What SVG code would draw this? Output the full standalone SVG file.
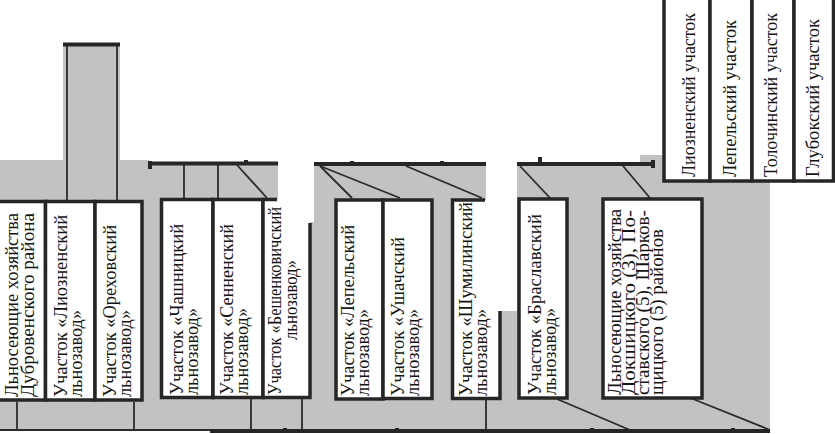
<svg xmlns="http://www.w3.org/2000/svg" width="835" height="434" viewBox="0 0 835 434">
<style>
.bg{fill:#c2c2c2}
.box{fill:#fff;stroke:#262626;stroke-width:3.5}
.brd{stroke:#262626;stroke-width:3.5;fill:none}
.bar{stroke:#262626;stroke-width:4;fill:none}
.ln{stroke:#2a2a2a;stroke-width:1.8;fill:none}
.t{font-family:"Liberation Serif","Times New Roman",serif;font-size:19px;fill:#141414}
.m{text-anchor:middle}
</style>
<g id="background">
<rect class="bg" x="63" y="43" width="57" height="120"/>
<rect class="bg" x="0" y="160" width="149" height="271"/>
<rect class="bg" x="149" y="163" width="129" height="268"/>
<rect class="bg" x="278" y="222" width="36" height="209"/>
<rect class="bg" x="314" y="163" width="172" height="268"/>
<rect class="bg" x="486" y="311" width="31" height="120"/>
<rect class="bg" x="517" y="163" width="253" height="268"/>
<rect class="bg" x="640" y="155" width="130" height="10"/>
</g>
<g id="connectors">
<line class="bar" x1="63" y1="44.5" x2="120" y2="44.5"/>
<line class="ln" x1="67" y1="46" x2="67" y2="200"/>
<line class="ln" x1="117" y1="46" x2="117" y2="200"/>
<line class="bar" x1="149" y1="163.5" x2="278" y2="163.5"/>
<line class="bar" x1="150" y1="161" x2="150" y2="169"/>
<line class="bar" x1="246" y1="160" x2="246" y2="164"/>
<line class="ln" x1="184" y1="165" x2="184" y2="198"/>
<line class="ln" x1="218" y1="165" x2="218" y2="198"/>
<line class="ln" x1="237" y1="165" x2="267" y2="198"/>
<line class="bar" x1="314" y1="164" x2="486" y2="164"/>
<line class="bar" x1="352" y1="161" x2="352" y2="164"/>
<line class="bar" x1="442" y1="161" x2="442" y2="164"/>
<line class="ln" x1="320" y1="166" x2="352" y2="198"/>
<line class="ln" x1="320" y1="166" x2="400" y2="198"/>
<line class="ln" x1="406" y1="166" x2="482" y2="198"/>
<line class="bar" x1="517" y1="164" x2="655" y2="164"/>
<line class="bar" x1="540" y1="157" x2="540" y2="164"/>
<line class="bar" x1="653" y1="160" x2="653" y2="168"/>
<line class="ln" x1="520" y1="166" x2="550" y2="198"/>
<line class="ln" x1="623" y1="166" x2="650" y2="198"/>
<line class="ln" x1="17" y1="402" x2="17" y2="430"/>
<line class="ln" x1="134" y1="402" x2="134" y2="430"/>
<line class="ln" x1="251" y1="399" x2="251" y2="430"/>
<line class="ln" x1="302" y1="399" x2="302" y2="430"/>
<line class="ln" x1="486" y1="400" x2="486" y2="430"/>
<line class="ln" x1="557" y1="399" x2="630" y2="430"/>
<line class="ln" x1="693" y1="399" x2="770" y2="430"/>
<line class="ln" x1="0" y1="430" x2="210" y2="430"/>
<line class="bar" x1="210" y1="431" x2="770" y2="431"/>
<line class="bar" x1="285" y1="428" x2="285" y2="431"/>
<line class="bar" x1="397" y1="428" x2="397" y2="431"/>
<line class="bar" x1="592" y1="428" x2="592" y2="431"/>
<line class="bar" x1="733" y1="428" x2="733" y2="431"/>
</g>
<g id="n1">
<rect class="box" x="-2" y="201.5" width="47.5" height="198.5"/>
<text class="t" transform="translate(18,397) rotate(-90)" textLength="184" lengthAdjust="spacingAndGlyphs">Льносеющие хозяйства</text>
<text class="t" transform="translate(34,397) rotate(-90)" textLength="184" lengthAdjust="spacingAndGlyphs">Дубровенского района</text>
</g>
<g id="n2">
<rect class="box" x="45.5" y="201.5" width="49.5" height="198.5"/>
<text class="t" transform="translate(67,397) rotate(-90)" textLength="182" lengthAdjust="spacingAndGlyphs">Участок «Лиозненский</text>
<text class="t" transform="translate(82,397) rotate(-90)" textLength="87" lengthAdjust="spacingAndGlyphs">льнозавод»</text>
</g>
<g id="n3">
<rect class="box" x="95" y="201.5" width="47" height="198.5"/>
<text class="t" transform="translate(116,397) rotate(-90)" textLength="172" lengthAdjust="spacingAndGlyphs">Участок «Ореховский</text>
<text class="t" transform="translate(131,397) rotate(-90)" textLength="87" lengthAdjust="spacingAndGlyphs">льнозавод»</text>
</g>
<g id="n4">
<rect class="box" x="161.5" y="199.5" width="51.5" height="198"/>
<text class="t" transform="translate(183,395) rotate(-90)" textLength="171" lengthAdjust="spacingAndGlyphs">Участок «Чашницкий</text>
<text class="t" transform="translate(198,395) rotate(-90)" textLength="87" lengthAdjust="spacingAndGlyphs">льнозавод»</text>
</g>
<g id="n5">
<rect class="box" x="213" y="199.5" width="50" height="198"/>
<text class="t" transform="translate(233,395) rotate(-90)" textLength="171" lengthAdjust="spacingAndGlyphs">Участок «Сенненский</text>
<text class="t" transform="translate(248,395) rotate(-90)" textLength="87" lengthAdjust="spacingAndGlyphs">льнозавод»</text>
</g>
<g id="n6">
<rect x="263" y="199.5" width="47" height="198" fill="#fff"/>
<rect x="278" y="150" width="36" height="50" fill="#fff"/>
<path class="brd" d="M277,199.5 H263 V397.5 H310 V223"/>
<text class="t" transform="translate(281,395) rotate(-90)" textLength="188" lengthAdjust="spacingAndGlyphs">Участок «Бешенковичский</text>
<text class="t m" transform="translate(297,300) rotate(-90)" textLength="80" lengthAdjust="spacingAndGlyphs">льнозавод»</text>
</g>
<g id="n7">
<rect class="box" x="336" y="200" width="47" height="199"/>
<text class="t" transform="translate(354,396) rotate(-90)" textLength="171" lengthAdjust="spacingAndGlyphs">Участок «Лепельский</text>
<text class="t" transform="translate(369,396) rotate(-90)" textLength="87" lengthAdjust="spacingAndGlyphs">льнозавод»</text>
</g>
<g id="n8">
<rect class="box" x="383" y="200" width="49" height="198.5"/>
<text class="t" transform="translate(404,396) rotate(-90)" textLength="159" lengthAdjust="spacingAndGlyphs">Участок «Ушачский</text>
<text class="t" transform="translate(419,396) rotate(-90)" textLength="87" lengthAdjust="spacingAndGlyphs">льнозавод»</text>
</g>
<g id="n9">
<rect x="452.5" y="200" width="47.5" height="198.5" fill="#fff"/>
<path class="brd" d="M485,200 H452.5 V398.5 H500 V311"/>
<text class="t" transform="translate(472,396) rotate(-90)" textLength="194" lengthAdjust="spacingAndGlyphs">Участок «Шумилинский</text>
<text class="t" transform="translate(487,396) rotate(-90)" textLength="87" lengthAdjust="spacingAndGlyphs">льнозавод»</text>
</g>
<g id="n10">
<rect class="box" x="519" y="199" width="48" height="199"/>
<text class="t" transform="translate(541,395) rotate(-90)" textLength="181" lengthAdjust="spacingAndGlyphs">Участок «Браславский</text>
<text class="t" transform="translate(556,395) rotate(-90)" textLength="87" lengthAdjust="spacingAndGlyphs">льнозавод»</text>
</g>
<g id="n11">
<rect class="box" x="603" y="199" width="99" height="199"/>
<text class="t" transform="translate(621,395) rotate(-90)" textLength="186" lengthAdjust="spacingAndGlyphs">Льносеющие хозяйства</text>
<text class="t" transform="translate(635,395) rotate(-90)" textLength="185" lengthAdjust="spacingAndGlyphs">Докшицкого (3), По-</text>
<text class="t" transform="translate(649,395) rotate(-90)" textLength="185" lengthAdjust="spacingAndGlyphs">ставского (5), Шарков-</text>
<text class="t" transform="translate(663,395) rotate(-90)" textLength="166" lengthAdjust="spacingAndGlyphs">щицкого (5) районов</text>
</g>
<g id="legend">
<rect class="box" x="664" y="-5" width="46" height="186"/>
<rect class="box" x="710" y="-5" width="42" height="186"/>
<rect class="box" x="752" y="-5" width="42" height="186"/>
<rect class="box" x="794" y="-5" width="39.5" height="186"/>
<text class="t" transform="translate(695,177) rotate(-90)" textLength="164" lengthAdjust="spacingAndGlyphs">Лиозненский участок</text>
<text class="t" transform="translate(736,177) rotate(-90)" textLength="157" lengthAdjust="spacingAndGlyphs">Лепельский участок</text>
<text class="t" transform="translate(777,177) rotate(-90)" textLength="164" lengthAdjust="spacingAndGlyphs">Толочинский участок</text>
<text class="t" transform="translate(819,177) rotate(-90)" textLength="158" lengthAdjust="spacingAndGlyphs">Глубокский участок</text>
</g>
</svg>
